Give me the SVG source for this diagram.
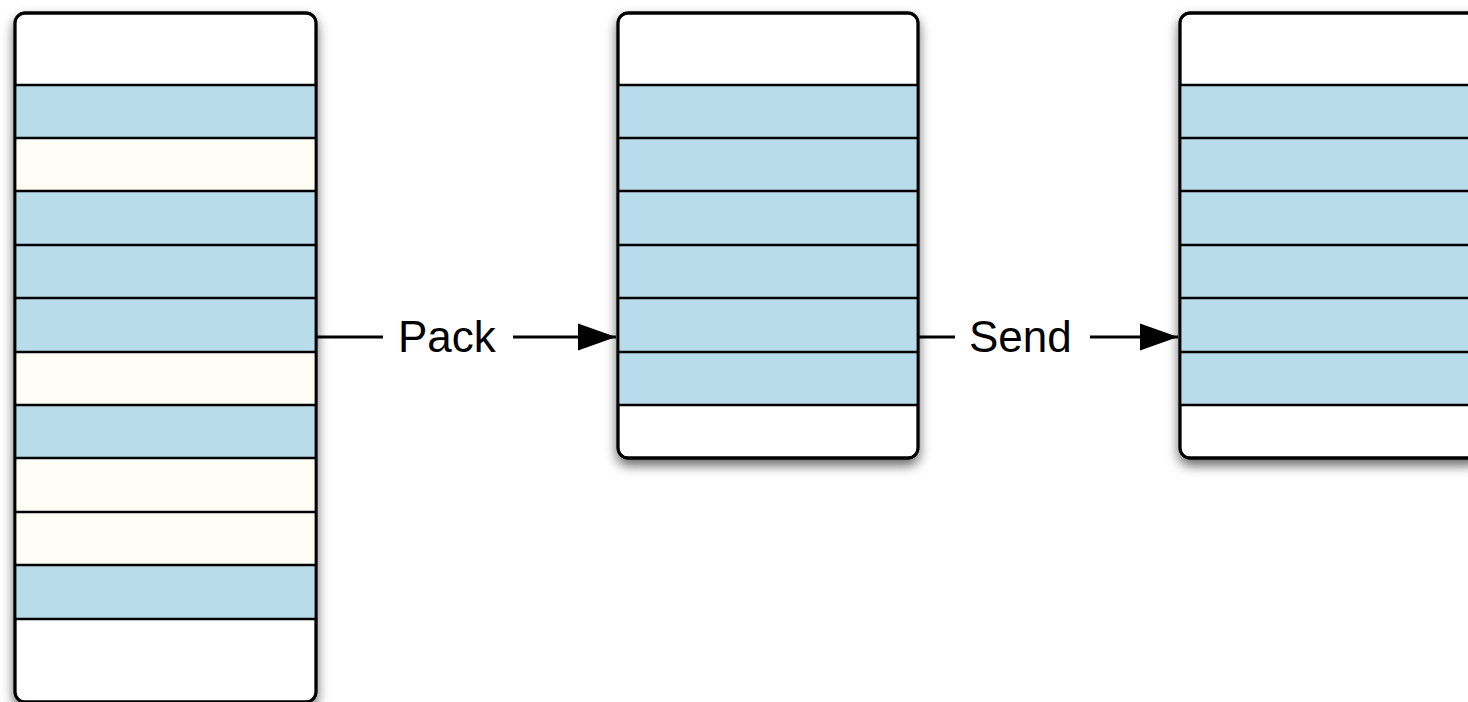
<svg xmlns="http://www.w3.org/2000/svg" width="1468" height="702" viewBox="0 0 1468 702">
  <defs>
    <filter id="shadow" x="-15%" y="-15%" width="130%" height="130%">
      <feDropShadow dx="0" dy="6" stdDeviation="6" flood-color="#000" flood-opacity="0.6"/>
    </filter>
    <marker id="arrow" markerWidth="12" markerHeight="8.5" refX="12" refY="4.25" orient="auto" markerUnits="strokeWidth">
      <path d="M0,0 L12,4.25 L0,8.5 Z" fill="#000"/>
    </marker>
    <clipPath id="clip1"><rect x="15" y="13" width="301" height="689" rx="10"/></clipPath>
    <clipPath id="clip2"><rect x="618" y="13" width="300" height="445" rx="10"/></clipPath>
    <clipPath id="clip3"><rect x="1180" y="13" width="300" height="445" rx="10"/></clipPath>
  </defs>
  <style>
    .frame { fill: #fff; stroke: #000; stroke-width: 2.8; }
    .outline { fill: none; stroke: #000; stroke-width: 2.8; }
    .blue { fill: #b8dcea; }
    .cream { fill: #fdfdf5; }
    .sep { stroke: #000; stroke-width: 2.6; }
    .conn { stroke: #000; stroke-width: 3.2; fill: none; }
    .label { font-family: "Liberation Sans", Arial, sans-serif; font-size: 44px; fill: #000; }
  </style>

  <!-- Source buffer: strided rows -->
  <g id="source">
    <rect x="15" y="13" width="301" height="689" rx="10" class="frame" filter="url(#shadow)"/>
    <g clip-path="url(#clip1)">
      <rect x="15" y="85" width="301" height="53" class="blue"/>
      <rect x="15" y="138" width="301" height="53" class="cream"/>
      <rect x="15" y="191" width="301" height="54" class="blue"/>
      <rect x="15" y="245" width="301" height="53" class="blue"/>
      <rect x="15" y="298" width="301" height="54" class="blue"/>
      <rect x="15" y="352" width="301" height="53" class="cream"/>
      <rect x="15" y="405" width="301" height="53" class="blue"/>
      <rect x="15" y="458" width="301" height="54" class="cream"/>
      <rect x="15" y="512" width="301" height="53" class="cream"/>
      <rect x="15" y="565" width="301" height="54" class="blue"/>
      <g class="sep">
        <line x1="15" y1="85" x2="316" y2="85"/>
        <line x1="15" y1="138" x2="316" y2="138"/>
        <line x1="15" y1="191" x2="316" y2="191"/>
        <line x1="15" y1="245" x2="316" y2="245"/>
        <line x1="15" y1="298" x2="316" y2="298"/>
        <line x1="15" y1="352" x2="316" y2="352"/>
        <line x1="15" y1="405" x2="316" y2="405"/>
        <line x1="15" y1="458" x2="316" y2="458"/>
        <line x1="15" y1="512" x2="316" y2="512"/>
        <line x1="15" y1="565" x2="316" y2="565"/>
        <line x1="15" y1="619" x2="316" y2="619"/>
      </g>
    </g>
    <rect x="15" y="13" width="301" height="689" rx="10" class="outline"/>
  </g>

  <!-- Packed buffer -->
  <g id="packed">
    <rect x="618" y="13" width="300" height="445" rx="10" class="frame" filter="url(#shadow)"/>
    <g clip-path="url(#clip2)">
      <rect x="618" y="85" width="300" height="320" class="blue"/>
      <g class="sep">
        <line x1="618" y1="85" x2="918" y2="85"/>
        <line x1="618" y1="138" x2="918" y2="138"/>
        <line x1="618" y1="191" x2="918" y2="191"/>
        <line x1="618" y1="245" x2="918" y2="245"/>
        <line x1="618" y1="298" x2="918" y2="298"/>
        <line x1="618" y1="352" x2="918" y2="352"/>
        <line x1="618" y1="405" x2="918" y2="405"/>
      </g>
    </g>
    <rect x="618" y="13" width="300" height="445" rx="10" class="outline"/>
  </g>

  <!-- Received buffer -->
  <g id="received">
    <rect x="1180" y="13" width="300" height="445" rx="10" class="frame" filter="url(#shadow)"/>
    <g clip-path="url(#clip3)">
      <rect x="1180" y="85" width="300" height="320" class="blue"/>
      <g class="sep">
        <line x1="1180" y1="85" x2="1480" y2="85"/>
        <line x1="1180" y1="138" x2="1480" y2="138"/>
        <line x1="1180" y1="191" x2="1480" y2="191"/>
        <line x1="1180" y1="245" x2="1480" y2="245"/>
        <line x1="1180" y1="298" x2="1480" y2="298"/>
        <line x1="1180" y1="352" x2="1480" y2="352"/>
        <line x1="1180" y1="405" x2="1480" y2="405"/>
      </g>
    </g>
    <rect x="1180" y="13" width="300" height="445" rx="10" class="outline"/>
  </g>

  <!-- Connectors with labels -->
  <g id="connectors">
    <line x1="316" y1="337" x2="383" y2="337" class="conn"/>
    <line x1="513" y1="337" x2="616" y2="337" class="conn" marker-end="url(#arrow)"/>
    <text x="398" y="352" class="label">Pack</text>

    <line x1="918" y1="337" x2="955" y2="337" class="conn"/>
    <line x1="1090" y1="337" x2="1178" y2="337" class="conn" marker-end="url(#arrow)"/>
    <text x="969" y="352" class="label">Send</text>
  </g>
</svg>
